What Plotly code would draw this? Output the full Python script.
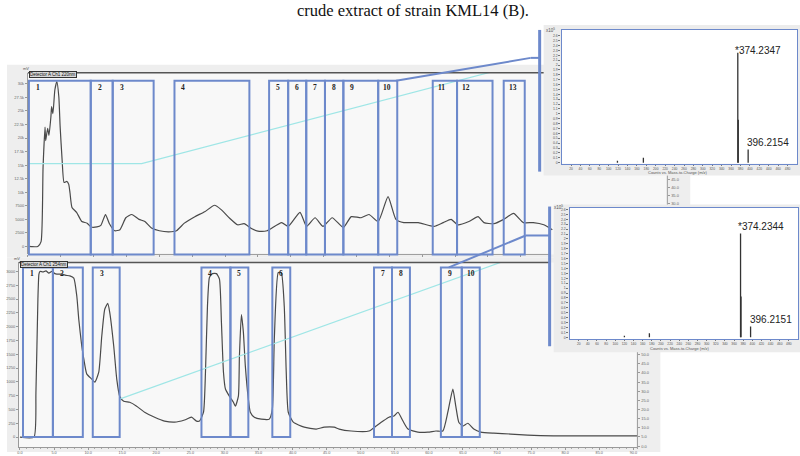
import plotly.graph_objects as go

W, H = 800, 456

# ---- top chromatogram (Detector A Ch1 220nm), time in min ----
top_time = [0, 1.5, 2.0, 2.3, 2.6, 2.7, 3.0, 3.2, 3.5, 3.6,
            3.8, 4.1, 4.4, 4.7, 4.9, 5.2, 5.5, 5.9, 6.2, 6.4,
            6.7, 7.4, 8.2, 9.0, 9.6, 10.5, 11.1, 11.8, 12.4, 13.2,
            14.0, 14.9, 15.8, 16.9, 17.8, 18.8, 20.0, 21.4, 22.6, 23.8,
            25.4, 26.9, 28.4, 29.4, 30.7, 31.9, 32.9, 34.0, 35.2, 36.4,
            38.6, 39.6, 41.4, 42.4, 43.7, 44.9, 46.3, 48.0, 49.2, 50.7,
            51.9, 53.3, 54.8, 56.0, 57.2, 59.4, 61.8, 63.2, 64.4, 65.4,
            67.1, 68.5, 69.4, 70.9, 72.4, 73.9, 75.4, 76.9, 78.5, 79.8]
top_signal = [0, 0, 900, 14500, 22000, 19500, 21800, 20500, 24000, 25800,
              24500, 28900, 30400, 27600, 22100, 16000, 11800, 12000, 11500, 9900,
              7200, 6300, 4600, 4300, 3600, 3600, 3900, 5900, 4200, 2900,
              3100, 5300, 5900, 5000, 4600, 3400, 2900, 2700, 2900, 4300,
              5500, 6400, 7600, 6800, 5200, 4000, 4200, 3300, 2800, 2900,
              4400, 3700, 6300, 3700, 5300, 3700, 5300, 3500, 5500, 5300,
              5900, 4600, 9200, 5000, 4400, 4400, 3700, 4400, 5000, 4000,
              4600, 5500, 4400, 4200, 5000, 6100, 4400, 4400, 4000, 3100]
top_grad_time = [0, 17.3, 80]
top_grad_pct = [55.0, 55.0, 122.7]

top_box_start = [0.15, 9.56, 12.9, 22.3, 36.7, 39.6, 42.35, 45.2, 48.0, 53.3, 61.6, 65.3, 72.4]
top_box_end = [9.56, 12.9, 19.13, 33.7, 39.6, 42.35, 45.2, 48.0, 53.3, 56.2, 65.3, 70.7, 75.6]
top_box_label = ["1", "2", "3", "4", "5", "6", "7", "8", "9", "10", "11", "12", "13"]

top_yticks = [0, 2500, 5000, 7500, 10000, 12500, 15000, 17500, 20000, 22500, 25000, 27500, 30000]
top_xticks = [0, 5, 10, 15, 20, 25, 30, 35, 40, 45, 50, 55, 60, 65, 70, 75]
top_rticks = [30, 35, 40, 45]
top_rlabels = ["30.0", "35.0", "40.0", "45.0"]

# ---- bottom chromatogram (Detector A Ch1 254nm) ----
bot_time = [0, 2.05, 2.34, 2.63, 2.78, 2.93, 3.37, 3.81, 4.24, 4.68,
            5.12, 5.41, 6.15, 6.73, 7.32, 7.9, 8.34, 8.63, 9.07, 9.37,
            9.81, 10.54, 10.98, 11.56, 12.0, 12.44, 12.88, 13.17, 13.76, 14.2,
            14.63, 15.22, 16.1, 17.12, 18.29, 19.76, 21.22, 22.68, 24.15, 25.17,
            25.9, 26.34, 26.93, 27.22, 27.51, 27.8, 28.24, 28.83, 29.27, 29.56,
            29.86, 30.15, 30.73, 31.32, 31.61, 32.05, 32.2, 32.49, 32.78, 33.07,
            33.51, 33.8, 34.39, 35.41, 36.59, 37.03, 37.32, 37.9, 38.34, 38.78,
            39.07, 39.37, 40.1, 41.71, 43.47, 44.64, 46.1, 46.83, 48.59, 51.22,
            52.25, 53.27, 54.15, 54.88, 55.47, 56.2, 56.93, 58.39, 59.86, 61.03,
            62.05, 62.78, 63.52, 63.95, 64.39, 64.98, 65.71, 66.59, 67.61, 69.51,
            72.0, 74.49, 78.3, 90.6]
bot_signal = [0, 0, 800, 2500, 2950, 3000, 2990, 3010, 2970, 3000,
              2960, 2950, 2950, 2930, 2920, 2880, 2550, 2130, 1645, 1410,
              1140, 1050, 995, 1175, 1825, 2315, 2420, 2260, 1645, 1050,
              740, 650, 630, 560, 450, 360, 290, 270, 310, 360,
              290, 290, 450, 1175, 2370, 2890, 2960, 2960, 2860, 2080,
              1175, 870, 740, 630, 560, 740, 1465, 2220, 1900, 1285,
              690, 450, 360, 325, 325, 505, 1770, 2980, 2980, 2370,
              1175, 450, 270, 180, 145, 180, 180, 145, 110, 110,
              200, 290, 360, 380, 450, 290, 145, 90, 90, 110,
              110, 450, 870, 560, 270, 200, 250, 145, 90, 70,
              55, 35, 20, 20]
bot_grad_time = [14.6, 72.0]
bot_grad_pct = [25.7, 102.5]

bot_box_start = [0.44, 4.83, 10.68, 26.63, 30.88, 37.03, 51.95, 54.59, 61.76, 64.83]
bot_box_end = [4.83, 9.22, 14.63, 30.88, 33.51, 39.66, 54.59, 57.22, 64.83, 67.47]
bot_box_label = ["1", "2", "3", "4", "5", "6", "7", "8", "9", "10"]

bot_yticks = [0, 250, 500, 750, 1000, 1250, 1500, 1750, 2000, 2250, 2500, 2750, 3000]
bot_xticks = [0, 5, 10, 15, 20, 25, 30, 35, 40, 45, 50, 55, 60, 65, 70, 75, 80, 85, 90]
bot_rticks = [0, 5, 10, 15, 20, 25, 30, 35, 40, 45, 50]

# ---- mass spectra (x10^5 counts) ----
ms1_mz = [118.6, 173.7, 374.2347, 375.24, 396.2154]
ms1_int = [0.04, 0.10, 2.25, 0.88, 0.27]
ms1_labels = ["*374.2347", "396.2154"]
ms2_mz = [120.0, 174.7, 374.2344, 375.24, 396.2151]
ms2_int = [0.03, 0.08, 2.11, 0.83, 0.22]
ms2_labels = ["*374.2344", "396.2151"]
ms_xticks = [20, 40, 60, 80, 100, 120, 140, 160, 180, 200, 220, 240,
             260, 280, 300, 320, 340, 360, 380, 400, 420, 440, 460, 480]
ms_yticks = [0, 0.1, 0.2, 0.3, 0.4, 0.5, 0.6, 0.7, 0.8, 0.9, 1, 1.1, 1.2, 1.3,
             1.4, 1.5, 1.6, 1.7, 1.8, 1.9, 2, 2.1, 2.2, 2.3, 2.4, 2.5, 2.6]
ms_xtitle = "Counts vs. Mass-to-Charge (m/z)"


def px(x):
    return x / W


def py(y):
    return 1 - y / H


BLUE = "#6d89cb"
CYAN = "#9fe6e6"
TRACE = "#4a4a4a"
TICKF = dict(size=4, color="#666")


def sticks(mz, inten):
    xs, ys = [], []
    for m, i in zip(mz, inten):
        xs += [m, m, None]
        ys += [0, i, None]
    return xs, ys


fig = go.Figure()

fig.add_trace(go.Scatter(x=top_grad_time, y=top_grad_pct, mode="lines",
                         line=dict(color=CYAN, width=1.2), xaxis="x", yaxis="y2"))
fig.add_trace(go.Scatter(x=top_time, y=top_signal, mode="lines",
                         line=dict(color=TRACE, width=1.2, shape="spline", smoothing=0.5),
                         xaxis="x", yaxis="y"))
fig.add_trace(go.Scatter(x=bot_grad_time, y=bot_grad_pct, mode="lines",
                         line=dict(color=CYAN, width=1.2), xaxis="x2", yaxis="y4"))
fig.add_trace(go.Scatter(x=bot_time, y=bot_signal, mode="lines",
                         line=dict(color=TRACE, width=1.2, shape="spline", smoothing=0.5),
                         xaxis="x2", yaxis="y3"))
sx, sy = sticks(ms1_mz, ms1_int)
fig.add_trace(go.Scatter(x=sx, y=sy, mode="lines", line=dict(color="#333", width=1.3),
                         xaxis="x3", yaxis="y5"))
sx, sy = sticks(ms2_mz, ms2_int)
fig.add_trace(go.Scatter(x=sx, y=sy, mode="lines", line=dict(color="#333", width=1.3),
                         xaxis="x4", yaxis="y6"))

shapes = []


def rect(x0, y0, x1, y1, color, layer="below"):
    shapes.append(dict(type="rect", xref="paper", yref="paper", x0=px(x0), x1=px(x1),
                       y0=py(y1), y1=py(y0), fillcolor=color, line=dict(width=0), layer=layer))


def seg(x0, y0, x1, y1, color, width, layer="above"):
    shapes.append(dict(type="line", xref="paper", yref="paper", x0=px(x0), x1=px(x1),
                       y0=py(y0), y1=py(y1), line=dict(color=color, width=width), layer=layer))


# panel backgrounds
rect(5, 65, 690, 258, "#eeeeee")
rect(26, 73, 667, 255, "#f8f8f8")
rect(5, 258, 660, 453, "#eeeeee")
rect(17, 263, 637, 449, "#f8f8f8")
rect(543, 25, 800, 176, "#ececec")
rect(561, 30, 797, 164, "#ffffff")
rect(553, 205, 800, 353, "#ececec")
rect(569, 208, 798, 340, "#ffffff")

# chromatogram frames / partial axes
seg(26, 73, 543, 73, "#555", 1.5)
seg(26, 255, 549, 255, "#999", 1)
seg(667, 176, 667, 205, "#999", 1)
seg(17, 263, 549, 263, "#555", 1.5)
seg(637, 353, 637, 450, "#999", 1)

# fraction boxes
for s, e in zip(top_box_start, top_box_end):
    shapes.append(dict(type="rect", xref="x", yref="y domain", x0=s, x1=e, y0=0, y1=0.956,
                       line=dict(color=BLUE, width=2), layer="above"))
for s, e in zip(bot_box_start, bot_box_end):
    shapes.append(dict(type="rect", xref="x2", yref="y3 domain", x0=s, x1=e, y0=0.054, y1=0.973,
                       line=dict(color=BLUE, width=2), layer="above"))

# connectors to spectra
seg(395, 81, 530, 58, BLUE, 2)
seg(530, 58, 539, 58, BLUE, 2)
seg(539, 30, 539, 172, BLUE, 3)
seg(448, 268, 525, 236, BLUE, 2)
seg(525, 236, 549, 236, BLUE, 2)
seg(549, 207, 549, 347, BLUE, 3)

ann = []
ann.append(dict(text="crude extract of strain KML14 (B).", xref="paper", yref="paper",
                x=px(412), y=py(11), xanchor="center", yanchor="middle", showarrow=False,
                font=dict(family="Liberation Serif", size=16.5, color="#111")))
box_font = dict(family="Liberation Serif", size=7.5, color="#222", weight="bold")
for s, lab in zip(top_box_start, top_box_label):
    ann.append(dict(text=lab, xref="x", yref="y domain", x=s, y=0.918, xshift=9,
                    xanchor="center", yanchor="middle", showarrow=False, font=box_font))
for s, lab in zip(bot_box_start, bot_box_label):
    ann.append(dict(text=lab, xref="x2", yref="y3 domain", x=s, y=0.941, xshift=9,
                    xanchor="center", yanchor="middle", showarrow=False, font=box_font))
for txt, xx, yy in [("Detector A Ch1 220nm", 27, 74.5), ("Detector A Ch1 254nm", 18, 265)]:
    ann.append(dict(text=txt, xref="paper", yref="paper", x=px(xx), y=py(yy), xanchor="left",
                    yanchor="middle", showarrow=False, bgcolor="#d8d8d8", bordercolor="#333",
                    borderwidth=1, borderpad=0, font=dict(size=4.5, color="#111")))
for xx, yy in [(24, 69), (15, 259)]:
    ann.append(dict(text="mV", xref="paper", yref="paper", x=px(xx), y=py(yy),
                    xanchor="center", yanchor="middle", showarrow=False,
                    font=dict(size=4, color="#555")))
for xx, yy in [(550, 30), (558, 207)]:
    ann.append(dict(text="x10<sup>5</sup>", xref="paper", yref="paper", x=px(xx), y=py(yy),
                    xanchor="center", yanchor="middle", showarrow=False,
                    font=dict(size=4.5, color="#555")))
for xx, yy in [(678, 172.5), (680, 349.5)]:
    ann.append(dict(text=ms_xtitle, xref="paper", yref="paper", x=px(xx), y=py(yy),
                    xanchor="center", yanchor="middle", showarrow=False,
                    font=dict(size=4, color="#555")))

lab_font = dict(family="Liberation Sans", size=10, color="#222")
ann.append(dict(text=ms1_labels[0], xref="x3", yref="y5", x=ms1_mz[2], y=ms1_int[2], xanchor="left",
                yanchor="bottom", xshift=-5, yshift=-5, showarrow=False, font=lab_font))
ann.append(dict(text=ms1_labels[1], xref="x3", yref="y5", x=ms1_mz[4], y=ms1_int[4], xanchor="left",
                yanchor="bottom", xshift=-3, yshift=-1, showarrow=False, font=lab_font))
ann.append(dict(text=ms2_labels[0], xref="x4", yref="y6", x=ms2_mz[2], y=ms2_int[2], xanchor="left",
                yanchor="bottom", xshift=-5, yshift=0, showarrow=False, font=lab_font))
ann.append(dict(text=ms2_labels[1], xref="x4", yref="y6", x=ms2_mz[4], y=ms2_int[4], xanchor="left",
                yanchor="bottom", xshift=-3, yshift=-1, showarrow=False, font=lab_font))

common = dict(showgrid=False, zeroline=False)
ms_x = dict(common, range=[0, 500], showline=True, mirror=True, linecolor=BLUE, linewidth=1.2,
            ticks="outside", ticklen=1, tickcolor="#777", tickvals=ms_xticks,
            tickfont=dict(size=3.3, color="#555"))
ms_y = dict(common, showline=True, mirror=True, linecolor=BLUE, linewidth=1.2,
            ticks="outside", ticklen=2, tickcolor="#777", tickvals=ms_yticks,
            tickfont=dict(size=3.5, color="#555"))

fig.update_layout(
    width=W, height=H, margin=dict(l=0, r=0, t=0, b=0),
    paper_bgcolor="white", plot_bgcolor="rgba(0,0,0,0)",
    showlegend=False, font=dict(family="Liberation Sans"),
    shapes=shapes, annotations=ann,
    xaxis=dict(common, domain=[px(26), px(667)], range=[0, 97.3], anchor="y",
               showline=False, ticks="outside", ticklen=2, tickcolor="#999",
               tickvals=top_xticks, showticklabels=False),
    yaxis=dict(common, domain=[py(255), py(73)], range=[-1470, 32020], anchor="x",
               showline=True, linecolor="#999", linewidth=1, ticks="outside", ticklen=2,
               tickcolor="#999", tickvals=top_yticks, tickfont=TICKF),
    yaxis2=dict(common, overlaying="y", side="right", anchor="x", range=[-1.9, 111.9],
                showline=False, ticks="outside", ticklen=2, tickcolor="#999",
                tickvals=top_rticks, ticktext=top_rlabels, tickfont=TICKF),
    xaxis2=dict(common, domain=[px(17), px(637)], range=[-0.15, 90.6], anchor="y3",
                showline=True, linecolor="#999", linewidth=1, ticks="outside", ticklen=1.5,
                tickcolor="#999", tickvals=bot_xticks, tickformat=".1f",
                tickfont=dict(size=3.8, color="#666"),
                minor=dict(ticks="outside", ticklen=1, dtick=1, tickcolor="#aaa")),
    yaxis3=dict(common, domain=[py(448), py(263)], range=[-180, 3163], anchor="x2",
                showline=True, linecolor="#999", linewidth=1, ticks="outside", ticklen=2,
                tickcolor="#999", tickvals=bot_yticks, tickfont=TICKF),
    yaxis4=dict(common, overlaying="y3", side="right", anchor="x2", range=[-0.5, 100.5],
                showline=False, ticks="outside", ticklen=2, tickcolor="#999",
                tickvals=bot_rticks, tickformat=".1f", tickfont=TICKF),
    xaxis3=dict(ms_x, domain=[px(561), px(797)], anchor="y5"),
    yaxis5=dict(ms_y, domain=[py(164), py(30)], range=[-0.02, 2.72], anchor="x3"),
    xaxis4=dict(ms_x, domain=[px(569), px(798)], anchor="y6"),
    yaxis6=dict(ms_y, domain=[py(340), py(208)], range=[-0.04, 2.64], anchor="x4"),
)

fig.write_html("out.html", config={"displayModeBar": False},
               post_script="document.body.style.margin='0';")
